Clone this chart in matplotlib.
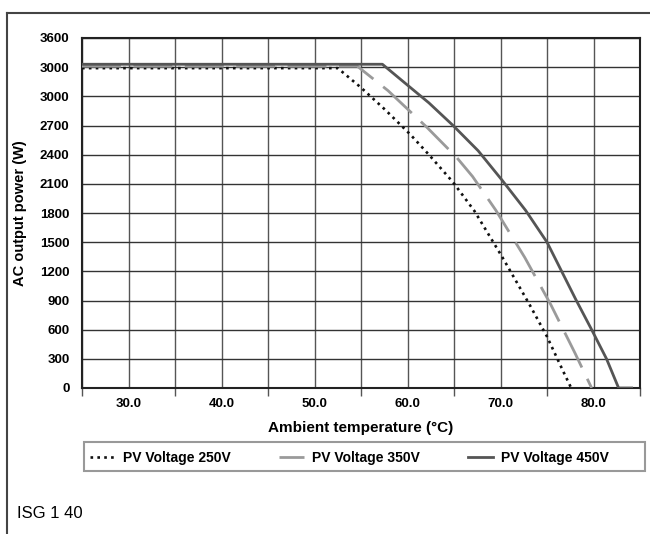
import matplotlib
matplotlib.use('Agg')
import matplotlib.pyplot as plt
from matplotlib.lines import Line2D
from matplotlib.patches import Rectangle

plt.rcParams['font.family'] = ['Liberation Sans', 'DejaVu Sans']

# curves (temperature in C, AC power in W)
temp_250 = [25, 52.5, 55.0, 57.6, 60.3, 62.3, 64.9, 67.2, 70.2, 73.1, 75.0, 76.7, 77.6]
power_250 = [3290, 3290, 3090, 2862, 2608, 2400, 2116, 1820, 1345, 862, 529, 180, 0]

temp_350 = [25, 54.6, 57.9, 62.1, 65.3, 67.0, 69.5, 72.6, 75.4, 78.0, 79.8]
power_350 = [3310, 3310, 3059, 2680, 2370, 2175, 1828, 1344, 859, 361, 0]

temp_450 = [25, 57.3, 59.8, 62.3, 64.9, 67.6, 70.2, 72.7, 75.0, 78.1, 79.8, 81.4, 82.7, 84.1]
power_450 = [3330, 3330, 3131, 2933, 2700, 2440, 2134, 1827, 1500, 910, 600, 300, 0, 0]

series_names = ['PV Voltage 250V', 'PV Voltage 350V', 'PV Voltage 450V']

x_label_pos = [30, 40, 50, 60, 70, 80]
x_labels = ['30.0', '40.0', '50.0', '60.0', '70.0', '80.0']
y_label_pos = [0, 300, 600, 900, 1200, 1500, 1800, 2100, 2400, 2700, 3000, 3300, 3600]
y_labels = ['0', '300', '600', '900', '1200', '1500', '1800', '2100', '2400',
            '2700', '3000', '3000', '3600']

fig = plt.figure(figsize=(6.5, 5.34), dpi=100)
ax = fig.add_axes([82 / 650, 146 / 534, 558 / 650, 350 / 534])

ax.plot(temp_250, power_250, color='#111111', lw=1.9, linestyle=(0, (1, 1.6)),
        label=series_names[0], zorder=3)
ax.plot(temp_350, power_350, color='#9a9a9a', lw=2.0, dashes=(14, 4.5),
        label=series_names[1], zorder=3)
ax.plot(temp_450, power_450, color='#555555', lw=2.0,
        label=series_names[2], zorder=4)

ax.set_xlim(25, 85)
ax.set_ylim(0, 3600)

ax.set_xticks(x_label_pos)
ax.set_xticklabels(x_labels, fontsize=9.5, fontweight='bold')
ax.set_xticks([25, 35, 45, 55, 65, 75, 85], minor=True)
ax.tick_params(axis='x', which='major', length=0, pad=7)
ax.tick_params(axis='x', which='minor', length=6, width=1, color='#555555')

ax.set_yticks(y_label_pos)
ax.set_yticklabels(y_labels, fontsize=9.5, fontweight='bold')
ax.set_yticks([0, 1200, 2400, 3600], minor=True)
ax.tick_params(axis='y', which='major', length=0, pad=9)
ax.tick_params(axis='y', which='minor', length=4, width=1, color='#555555')

ax.grid(axis='x', which='both', color='#555555', lw=1.0)
ax.grid(axis='y', which='major', color='#333333', lw=1.0)
ax.set_axisbelow(True)

for s in ax.spines.values():
    s.set_color('#222222')
    s.set_linewidth(1.5)

ax.set_xlabel('Ambient temperature (°C)', fontsize=11, fontweight='bold')
ax.xaxis.set_label_coords(0.5, -0.094)
ax.set_ylabel('AC output power (W)', fontsize=10.5, fontweight='bold')
ax.yaxis.set_label_coords(-0.099, 0.5)

# legend box drawn separately so the entries keep their spacing
ax.add_patch(Rectangle((0.004, -0.237), 1.005, 0.083, transform=ax.transAxes,
                       fill=False, edgecolor='#999999', lw=1.5, clip_on=False))
ax.legend(loc='center left', bbox_to_anchor=(0.004, -0.199), frameon=False,
          ncol=3, handlelength=1.8, handletextpad=0.6, columnspacing=3.45,
          borderaxespad=0, prop={'weight': 'bold', 'size': 10})

# outer box lines (top and left only)
fig.add_artist(Line2D([7 / 650, 1], [1 - 13 / 534] * 2, transform=fig.transFigure,
                      color='#444444', lw=1.5))
fig.add_artist(Line2D([7 / 650] * 2, [0, 1 - 13 / 534], transform=fig.transFigure,
                      color='#444444', lw=1.5))

fig.text(17 / 650, 20 / 534, 'ISG 1 40', fontsize=12, va='center', ha='left')

plt.savefig('out.png')
